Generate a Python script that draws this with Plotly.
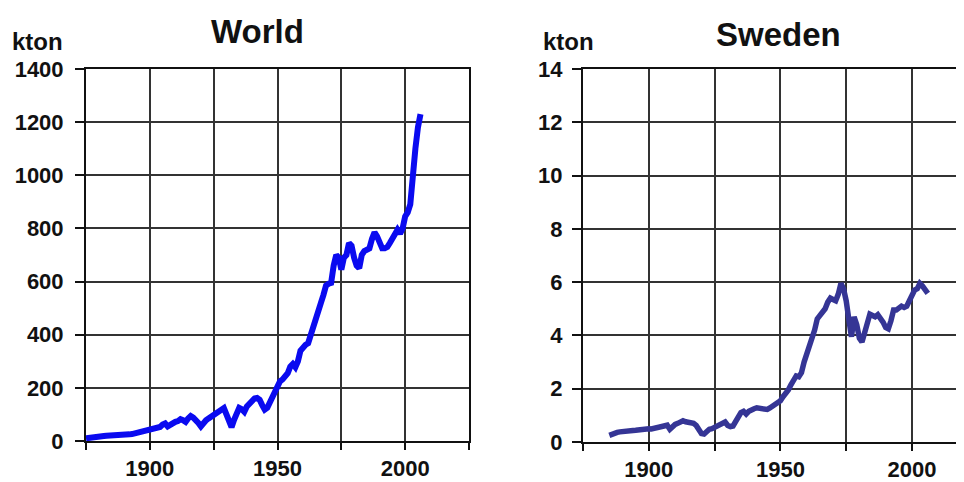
import plotly.graph_objects as go

# ---------------- data ----------------
world_years = list(range(1875, 2007))
world_kton = [
    10, 12, 13, 14, 15, 17, 18, 19, 20, 20,            # 1875-1884
    21, 22, 22, 23, 24, 24, 25, 25, 26, 28,            # 1885-1894
    30, 32, 35, 38, 42, 44, 45, 47, 50, 53,            # 1895-1904
    62, 66, 55, 62, 68, 72, 75, 82, 78, 72,            # 1905-1914
    85, 94, 88, 80, 68, 55, 70, 78, 85, 92,            # 1915-1924
    98, 105, 112, 120, 124, 100, 70, 52, 80, 105,      # 1925-1934
    125, 120, 110, 130, 140, 155, 160, 162, 155, 135,  # 1935-1944
    118, 125, 145, 160, 185, 205, 225, 232, 240, 255,  # 1945-1954
    280, 290, 278, 300, 340, 355, 362, 368, 395, 430,  # 1955-1964
    455, 490, 520, 550, 585, 592, 595, 660, 700, 690,  # 1965-1974
    645, 690, 700, 745, 735, 690, 660, 650, 700, 715,  # 1975-1984
    718, 725, 760, 785, 770, 740, 725, 725, 730, 745,  # 1985-1994
    760, 780, 795, 780, 800, 845, 860, 890, 1030, 1100,  # 1995-2004
    1180, 1230,                                        # 2005-2006
]

sweden_years = list(range(1885, 2007))
sweden_kton = [
    0.25, 0.30, 0.33, 0.36, 0.38, 0.40, 0.41, 0.42, 0.43, 0.43,  # 1885-1894
    0.44, 0.46, 0.48, 0.50, 0.50, 0.50, 0.49, 0.52, 0.55, 0.58,  # 1895-1904
    0.60, 0.62, 0.63, 0.48, 0.60, 0.66, 0.70, 0.75, 0.80, 0.76,  # 1905-1914
    0.74, 0.75, 0.70, 0.62, 0.50, 0.32, 0.30, 0.42, 0.48, 0.50,  # 1915-1924
    0.55, 0.58, 0.60, 0.68, 0.75, 0.62, 0.58, 0.60, 0.75, 0.95,  # 1925-1934
    1.10, 1.15, 1.05, 1.15, 1.22, 1.25, 1.28, 1.26, 1.24, 1.22,  # 1935-1944
    1.22, 1.28, 1.35, 1.42, 1.48, 1.55, 1.70, 1.82, 1.95, 2.15,  # 1945-1954
    2.35, 2.48, 2.45, 2.60, 3.00, 3.30, 3.55, 3.75, 4.20, 4.62,  # 1955-1964
    4.75, 4.80, 5.00, 5.25, 5.40, 5.35, 5.30, 5.55, 5.95, 5.75,  # 1965-1974
    5.30, 4.60, 3.95, 4.70, 4.40, 3.90, 3.75, 4.10, 4.50, 4.80,  # 1975-1984
    4.75, 4.70, 4.78, 4.65, 4.50, 4.30, 4.25, 4.55, 4.95, 4.95,  # 1985-1994
    5.05, 5.10, 5.05, 5.10, 5.30, 5.55, 5.70, 5.75, 5.95, 5.85,  # 1995-2004
    5.70, 5.58,                                                  # 2005-2006
]

x_tickvals = [1875, 1900, 1925, 1950, 1975, 2000, 2025]
x_ticktext = ["", "1900", "", "1950", "", "2000", ""]
world_yticks = [0, 200, 400, 600, 800, 1000, 1200, 1400]
sweden_yticks = [0, 2, 4, 6, 8, 10, 12, 14]

titles = ["World", "Sweden"]
unit_label = "kton"

# ---------------- figure ----------------
W, H = 964, 482
OFF = 8  # page body margin: the figure is drawn 8px right/down on screen
FONT = "Arial, 'Liberation Sans', sans-serif"


def px(s):
    return (s - OFF) / W


def py(s):
    return 1 - (s - OFF) / H


fig = go.Figure()
fig.add_trace(go.Scatter(x=world_years, y=world_kton, mode="lines",
                         line=dict(color="#0a0af0", width=6),
                         xaxis="x", yaxis="y", showlegend=False))
fig.add_trace(go.Scatter(x=sweden_years, y=sweden_kton, mode="lines",
                         line=dict(color="#353595", width=5.5),
                         xaxis="x2", yaxis="y2", showlegend=False))

tickfont = dict(family=FONT, size=22, color="#111111", weight="bold")
common_x = dict(tickmode="array", tickvals=x_tickvals, ticktext=x_ticktext,
                showgrid=True, gridcolor="#333333", gridwidth=1.6,
                showline=True, linecolor="#111111", linewidth=2,
                ticks="outside", ticklen=7, tickwidth=2, tickcolor="#111111",
                tickfont=tickfont, zeroline=False, fixedrange=True,
                automargin=False)
common_y = dict(tickmode="array",
                showgrid=True, gridcolor="#333333", gridwidth=1.6,
                showline=True, linecolor="#111111", linewidth=2,
                ticks="outside", ticklen=9, tickwidth=2, tickcolor="#111111",
                tickfont=tickfont, zeroline=False, fixedrange=True,
                automargin=False)

# Sweden x-axis runs off the right edge of the picture
sw_left, sw_step = 583, 65.8  # screen px of 1875, px per 25 years
sw_right_year = 1875 + (W + OFF - sw_left) / sw_step * 25

fig.update_layout(
    template="none",
    width=W, height=H, autosize=False,
    margin=dict(l=0, r=0, t=0, b=0, pad=0),
    paper_bgcolor="white", plot_bgcolor="white",
    xaxis=dict(common_x, domain=[px(86), px(469)], range=[1875, 2025],
               mirror=True, anchor="y"),
    yaxis=dict(common_y, domain=[py(441), py(69)], range=[0, 1400],
               tickvals=world_yticks, mirror=True, anchor="x",
               ticklabelstandoff=7),
    xaxis2=dict(common_x, domain=[px(sw_left), 1.0],
                range=[1875, sw_right_year], mirror=True, anchor="y2"),
    yaxis2=dict(common_y, domain=[py(442), py(69)], range=[0, 14],
                tickvals=sweden_yticks, mirror=False, anchor="x2",
                ticklabelstandoff=5),
    annotations=[
        dict(text=titles[0], x=px(257.5), y=py(31), xref="paper", yref="paper",
             xanchor="center", yanchor="middle", showarrow=False,
             font=dict(family=FONT, size=33, color="#111111", weight="bold")),
        dict(text=titles[1], x=px(778.5), y=py(34), xref="paper", yref="paper",
             xanchor="center", yanchor="middle", showarrow=False,
             font=dict(family=FONT, size=33, color="#111111", weight="bold")),
        dict(text=unit_label, x=px(37.5), y=py(42), xref="paper", yref="paper",
             xanchor="center", yanchor="middle", showarrow=False,
             font=dict(family=FONT, size=24, color="#111111", weight="bold")),
        dict(text=unit_label, x=px(568), y=py(42), xref="paper", yref="paper",
             xanchor="center", yanchor="middle", showarrow=False,
             font=dict(family=FONT, size=24, color="#111111", weight="bold")),
    ],
)

fig.write_html("out.html")
